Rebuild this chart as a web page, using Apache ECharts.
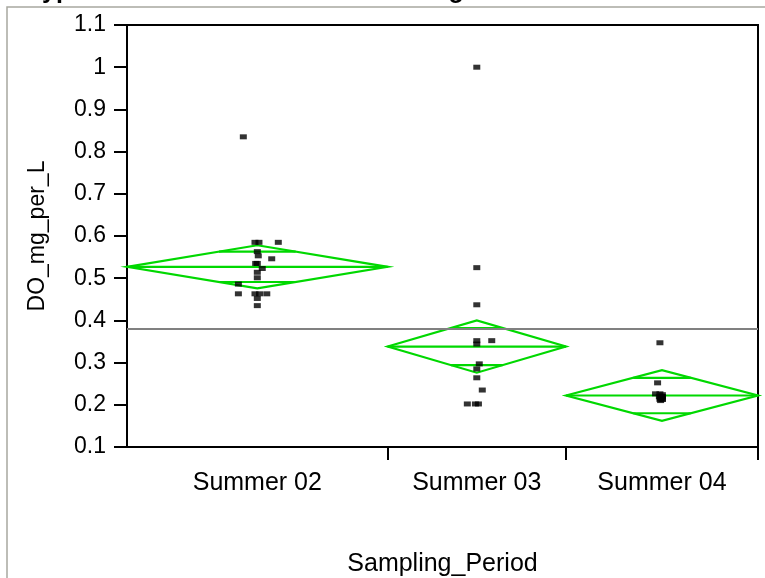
<!DOCTYPE html>
<html>
<head>
<meta charset="utf-8">
<script src="https://cdn.jsdelivr.net/npm/echarts@6/dist/echarts.min.js"></script>
<style>
  html, body { margin: 0; padding: 0; background: #fff; }
  #chart { width: 765px; height: 578px; }
</style>
</head>
<body>
<div id="chart"></div>
<script>
// groups and sample sizes (x widths are proportional to n, JMP style)
const periods = ["Summer 02", "Summer 03", "Summer 04"];
const groupCounts = [19, 13, 14];

// means diamonds: group mean, 95% CI half width, overlap mark half distance
const groupMeans = [0.527, 0.338, 0.222];
const ciHalf = [0.051, 0.062, 0.060];
const overlapHalf = [0.036, 0.044, 0.042];
const grandMean = 0.383;

const summer02Values = [0.835, 0.585, 0.585, 0.585, 0.563, 0.553, 0.546, 0.535, 0.535, 0.523, 0.514, 0.501, 0.486, 0.463, 0.463, 0.463, 0.463, 0.452, 0.435];
const summer02Jitter = [-1.02, -0.17, 0.12, 1.53, 0, 0.07, 1.05, -0.12, 0, 0.36, 0, 0, -1.38, -1.38, -0.17, 0.16, 0.69, 0, 0];
const summer03Values = [1.0, 0.525, 0.437, 0.352, 0.352, 0.344, 0.297, 0.285, 0.264, 0.235, 0.202, 0.202, 0.202];
const summer03Jitter = [0, 0, 0, 0, 1.09, 0, 0.18, 0, 0, 0.4, -0.69, -0.1, 0.12];
const summer04Values = [0.347, 0.252, 0.226, 0.226, 0.224, 0.219, 0.219, 0.213, 0.213, 0.22, 0.216, 0.213, 0.21, 0.218];
const summer04Jitter = [-0.15, -0.32, -0.47, -0.15, 0.03, -0.19, 0.03, -0.15, 0.03, 0, -0.1, 0.03, -0.1, 0];

const yTicks = { min: 0.1, max: 1.1, interval: 0.1 };

const groupValues = [summer02Values, summer03Values, summer04Values];
const groupJitter = [summer02Jitter, summer03Jitter, summer04Jitter];

// category boundaries / centres on the x value axis
const bounds = [0];
groupCounts.forEach(n => bounds.push(bounds[bounds.length - 1] + n));
const centers = groupCounts.map((n, i) => bounds[i] + n / 2);
const total = bounds[bounds.length - 1];

const points = [];
groupValues.forEach((vals, g) => {
  vals.forEach((v, k) => points.push([centers[g] + groupJitter[g][k], v]));
});

const diamondData = periods.map((p, i) => [bounds[i], bounds[i + 1], groupMeans[i], ciHalf[i], overlapHalf[i]]);

const green = "#00d800";
const font = "'Liberation Sans', Arial, sans-serif";

const chart = echarts.init(document.getElementById("chart"));

chart.setOption({
  animation: false,
  backgroundColor: "#fff",
  graphic: [
    {
      type: "rect",
      shape: { x: 7, y: 7, width: 800, height: 620 },
      style: { fill: "none", stroke: "#a8a8a0", lineWidth: 1.5 },
      z: -1
    },
    {
      type: "text",
      left: 24,
      top: -21,
      style: {
        text: "Hypothesis Test for Mean DO Among Periods",
        font: "bold 25px " + font,
        fill: "#000"
      }
    }
  ],
  grid: {
    left: 127,
    right: 7,
    top: 25,
    bottom: 131,
    outerBoundsMode: "none",
    containLabel: false,
    show: true,
    borderColor: "#000",
    borderWidth: 2,
    backgroundColor: "#fff"
  },
  xAxis: {
    type: "value",
    min: 0,
    max: total,
    name: "Sampling_Period",
    nameLocation: "middle",
    nameGap: 105,
    nameTextStyle: { fontFamily: font, fontSize: 25, color: "#000" },
    axisLine: { show: true, lineStyle: { color: "#000", width: 2 } },
    axisTick: {
      show: true,
      length: 13,
      customValues: bounds.slice(1),
      lineStyle: { color: "#000", width: 2 }
    },
    axisLabel: {
      customValues: centers,
      margin: 24,
      fontFamily: font,
      fontSize: 25,
      color: "#000",
      formatter: v => {
        const i = centers.findIndex(c => Math.abs(c - v) < 1e-6);
        return i >= 0 ? periods[i] : "";
      }
    },
    splitLine: { show: false }
  },
  yAxis: {
    type: "value",
    min: yTicks.min,
    max: yTicks.max,
    interval: yTicks.interval,
    name: "DO_mg_per_L",
    nameLocation: "middle",
    nameRotate: 90,
    nameGap: 78,
    nameTextStyle: { fontFamily: font, fontSize: 23, color: "#000" },
    axisLine: { show: true, lineStyle: { color: "#000", width: 2 } },
    axisTick: { show: true, length: 13, lineStyle: { color: "#000", width: 2 } },
    axisLabel: {
      margin: 21,
      fontFamily: font,
      fontSize: 23,
      color: "#000",
      formatter: v => String(Math.round(v * 10) / 10)
    },
    splitLine: { show: false }
  },
  series: [
    {
      type: "custom",
      data: diamondData,
      z: 3,
      renderItem: (params, api) => {
        const x0 = api.value(0), x1 = api.value(1);
        const m = api.value(2), ci = api.value(3), ov = api.value(4);
        const xc = (x0 + x1) / 2;
        const L = api.coord([x0, m]);
        const R = api.coord([x1, m]);
        const T = api.coord([xc, m + ci]);
        const B = api.coord([xc, m - ci]);
        const frac = 1 - ov / ci;
        const hw = (x1 - x0) / 2 * frac;
        const ovTopL = api.coord([xc - hw, m + ov]);
        const ovTopR = api.coord([xc + hw, m + ov]);
        const ovBotL = api.coord([xc - hw, m - ov]);
        const ovBotR = api.coord([xc + hw, m - ov]);
        const st = { stroke: green, lineWidth: 2.2, fill: "none" };
        return {
          type: "group",
          children: [
            { type: "polygon", shape: { points: [L, T, R, B] }, style: st },
            { type: "line", shape: { x1: L[0], y1: L[1], x2: R[0], y2: R[1] }, style: st },
            { type: "line", shape: { x1: ovTopL[0], y1: ovTopL[1], x2: ovTopR[0], y2: ovTopR[1] }, style: st },
            { type: "line", shape: { x1: ovBotL[0], y1: ovBotL[1], x2: ovBotR[0], y2: ovBotR[1] }, style: st }
          ]
        };
      }
    },
    {
      type: "scatter",
      data: points,
      symbol: "rect",
      symbolSize: [7, 5],
      itemStyle: { color: "#000" },
      z: 4,
      markLine: {
        silent: true,
        symbol: "none",
        label: { show: false },
        lineStyle: { color: "#808080", width: 2, type: "solid" },
        data: [{ yAxis: grandMean }]
      }
    }
  ]
});
</script>
</body>
</html>
